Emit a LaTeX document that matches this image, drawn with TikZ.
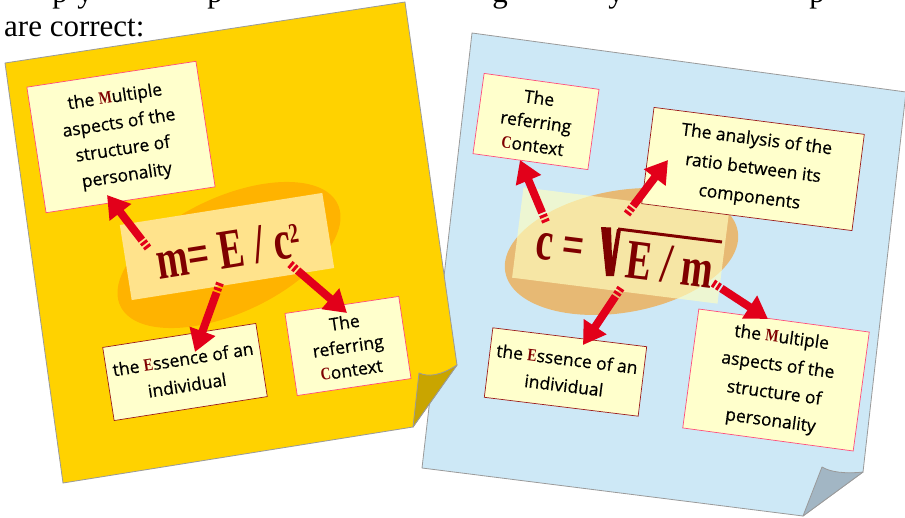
\documentclass[tikz,border=0pt]{standalone}
\usepackage{fontspec}
\setmainfont{Open Sans}[UprightFeatures={FakeBold=0.6}]
\newfontfamily\serifT{Liberation Serif}
\newfontfamily\stencilfont{Liberation Serif}[FakeStretch=0.68]
\newfontfamily\initfont{Liberation Serif}[FakeStretch=0.8]
\usetikzlibrary{arrows.meta}
\definecolor{sheetY}{HTML}{FFD200}
\definecolor{foldY}{HTML}{C9A500}
\definecolor{sheetB}{HTML}{CDE8F6}
\definecolor{foldB}{HTML}{A2B6C4}
\definecolor{edgeG}{HTML}{9A9A9A}
\definecolor{noteF}{HTML}{FFFFCC}
\definecolor{pinkB}{HTML}{FF4D7A}
\definecolor{darkB}{HTML}{9B1B1B}
\definecolor{stenc}{HTML}{7F0000}
\definecolor{arrowR}{HTML}{E2001A}
\definecolor{ellO}{HTML}{FFB300}
\definecolor{plateY}{HTML}{FFE38C}
\definecolor{ellT}{HTML}{E7B974}
\definecolor{plateL}{HTML}{FFFFC0}
\newcommand{\St}[1]{{\initfont\bfseries\color{stenc}#1}}
\tikzset{
  note/.style={draw=pinkB, line width=0.7pt, fill=noteF, inner sep=0pt, align=center,
    font=\fontsize{17.5}{26.5}\selectfont, text=black},
  notedark/.style={note, draw=darkB},
  redarrow/.style={draw=arrowR, line width=8pt, -{Triangle[width=26pt,length=22pt]},
    dash pattern=on 3pt off 2pt on 3pt off 2pt on 400pt},
  sheet/.style={draw=edgeG, line width=0.8pt, line join=round},
  formula/.style={font=\stencilfont\bfseries\fontsize{56}{56}\selectfont, text=stenc, inner sep=0pt},
  toptext/.style={font=\serifT\fontsize{31}{31}\selectfont, inner sep=0pt, text=black}
}
\begin{document}
\begin{tikzpicture}[x=1pt,y=-1pt]
\useasboundingbox (0,0) rectangle (905,517);
\clip (0,0) rectangle (905,517);
\fill[white] (0,0) rectangle (905,517);
% top text (only the descenders of the line above show)
\node[toptext, anchor=base] (g1) at (60,2) {p};
\node[toptext, anchor=base] (g2) at (85,2) {y};
\node[toptext, anchor=base] (g3) at (215,2) {p};
\node[toptext, anchor=base] (g4) at (500,2) {g};
\node[toptext, anchor=base] (g5) at (616,2) {y};
\node[toptext, anchor=base] (g6) at (817,2) {p};
\node[toptext, anchor=base west] (txt) at (4,36) {are correct:};
% blue sheet
\draw[sheet, fill=sheetB] (472,33) -- (906,92) -- (863,472) -- (803,516) -- (422,468) -- cycle;
\draw[sheet, fill=foldB] (822,467) .. controls (830,472) and (845,474) .. (863,472) -- (803,516) -- cycle;
% yellow sheet
\draw[sheet, fill=sheetY] (5,63) -- (405,2) -- (457,365) -- (413,427) -- (63,483) -- cycle;
\draw[sheet, fill=foldY] (419,373) .. controls (428,377) and (440,376) .. (457,365) -- (413,427) -- cycle;
% left formula background
\fill[ellO, rotate around={25:(229,255)}] (229,255) ellipse [x radius=120pt, y radius=58pt];
\node[fill=plateY, minimum width=205pt, minimum height=76pt, inner sep=0pt, rotate=9] (PL) at (227,246.5) {};
% right formula background
\fill[ellT, rotate around={10:(621.5,251.5)}] (621.5,251.5) ellipse [x radius=118pt, y radius=61pt];
\node[fill=plateL, fill opacity=0.65, minimum width=207pt, minimum height=91pt, inner sep=0pt, rotate=-7.2] (PR) at (620.5,245.5) {};
% notes left
\node[note, minimum width=171pt, minimum height=127pt, rotate=8.7] (L1) at (121,137)
  {the \St{M}ultiple\\aspects of the\\structure of\\personality};
\node[notedark, minimum width=155pt, minimum height=74pt, rotate=8.9] (L2) at (185,372)
  {the \St{E}ssence of an\\individual};
\node[note, minimum width=115pt, minimum height=83pt, rotate=8.5, font=\fontsize{17.5}{24}\selectfont] (L3) at (348,346)
  {The\\referring\\\St{C}ontext};
% notes right
\node[note, minimum width=116pt, minimum height=81pt, rotate=-7.9, font=\fontsize{17.5}{24}\selectfont] (R1) at (536,121.5)
  {The\\referring\\\St{C}ontext};
\node[notedark, minimum width=212pt, minimum height=97pt, rotate=-7.3, font=\fontsize{17.5}{29}\selectfont] (R2) at (753,169)
  {The analysis of the\\ratio between its\\components};
\node[notedark, minimum width=155pt, minimum height=70pt, rotate=-7] (R3) at (565.5,372)
  {the \St{E}ssence of an\\individual};
\node[note, minimum width=172pt, minimum height=120pt, rotate=-7.7, font=\fontsize{17.5}{28}\selectfont] (R4) at (776,380)
  {the \St{M}ultiple\\aspects of the\\structure of\\personality};
% formulas
\node[formula, rotate=9] (FL) at (228,250) {m= E / c\raisebox{15pt}{\fontsize{28}{28}\selectfont 2}};
\node[formula, rotate=-7.2] (FR1) at (560,249) {c =};
\node[formula, rotate=-7.2] (FR2) at (670,265) {E / m};
\fill[stenc] (601,227) -- (611,227.5) -- (612,258) -- (617,229) -- (621,229.5) -- (614,276) -- (606,276) -- cycle;
\draw[stenc, line width=3pt] (618,229) -- (722,242);
% arrows left
\coordinate (a1t) at (148,248); \coordinate (a1h) at (107,195);
\coordinate (a2t) at (220,283); \coordinate (a2h) at (195,352);
\coordinate (a3t) at (290,264); \coordinate (a3h) at (347,313);
\draw[redarrow] (a1t) -- (a1h);
\draw[redarrow] (a2t) -- (a2h);
\draw[redarrow] (a3t) -- (a3h);
% arrows right
\coordinate (b1t) at (546,222); \coordinate (b1h) at (520,160);
\coordinate (b2t) at (627,214); \coordinate (b2h) at (668,160);
\coordinate (b3t) at (621,288); \coordinate (b3h) at (583,345);
\coordinate (b4t) at (713,283); \coordinate (b4h) at (768,319);
\draw[redarrow] (b1t) -- (b1h);
\draw[redarrow] (b2t) -- (b2h);
\draw[redarrow] (b3t) -- (b3h);
\draw[redarrow] (b4t) -- (b4h);
\end{tikzpicture}
\end{document}
